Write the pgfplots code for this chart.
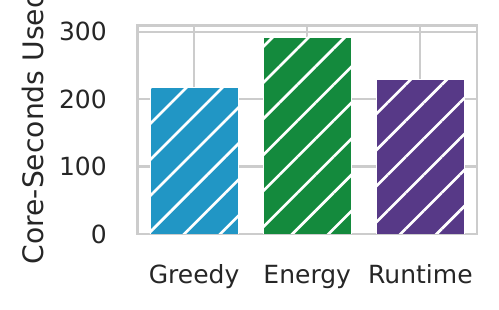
\documentclass[border=0pt]{standalone}
\usepackage{fontspec}
\setmainfont{DejaVu Sans}
\usepackage{pgfplots}
\pgfplotsset{compat=1.18}
\usetikzlibrary{patterns.meta}
\definecolor{cblue}{HTML}{2196C5}
\definecolor{cgreen}{HTML}{148A3D}
\definecolor{cpurple}{HTML}{573987}
\definecolor{gridc}{HTML}{CCCCCC}
\definecolor{txt}{HTML}{262626}
\begin{document}
\begin{tikzpicture}
\begin{axis}[
  at={(0,0)}, anchor=south west,
  scale only axis,
  width=339.5pt, height=208.5pt,
  xmin=-0.5, xmax=2.5,
  ymin=0, ymax=309,
  xtick={0,1,2},
  xticklabels={Greedy,Energy,Runtime},
  ytick={0,100,200,300},
  major tick length=0pt,
  xmajorgrids, ymajorgrids,
  grid style={draw=gridc, line width=2.1pt},
  axis line style={draw=gridc, line width=2.5pt},
  /pgf/number format/assume math mode=true,
  tick label style={font=\fontsize{25}{29}\selectfont, text=txt},
  yticklabel style={anchor=east, inner sep=0pt, xshift=-30.5pt},
  xticklabel style={anchor=base, inner sep=0pt, yshift=-50pt},
  ylabel={Core-Seconds Used},
  ylabel style={at={(axis description cs:-0.2783,0.51)}, anchor=base, rotate=0, font=\fontsize{28.2}{33}\selectfont, text=txt, inner sep=0pt},
  ybar, bar width=0.78,
]
\addplot[bar shift=0pt, fill=cblue, draw=white, line width=0.5pt,
  postaction={pattern={Lines[angle=45,distance=25.5pt,line width=2.7pt]}, pattern color=white}]
  coordinates {(0,217)};
\addplot[bar shift=0pt, fill=cgreen, draw=white, line width=0.5pt,
  postaction={pattern={Lines[angle=45,distance=25.5pt,line width=2.7pt]}, pattern color=white}]
  coordinates {(1,292)};
\addplot[bar shift=0pt, fill=cpurple, draw=white, line width=0.5pt,
  postaction={pattern={Lines[angle=45,distance=25.5pt,line width=2.7pt]}, pattern color=white}]
  coordinates {(2,229)};
\end{axis}
\pgfresetboundingbox
\useasboundingbox (-137.5pt,-76pt) rectangle (361.5pt,234pt);
\end{tikzpicture}
\end{document}
